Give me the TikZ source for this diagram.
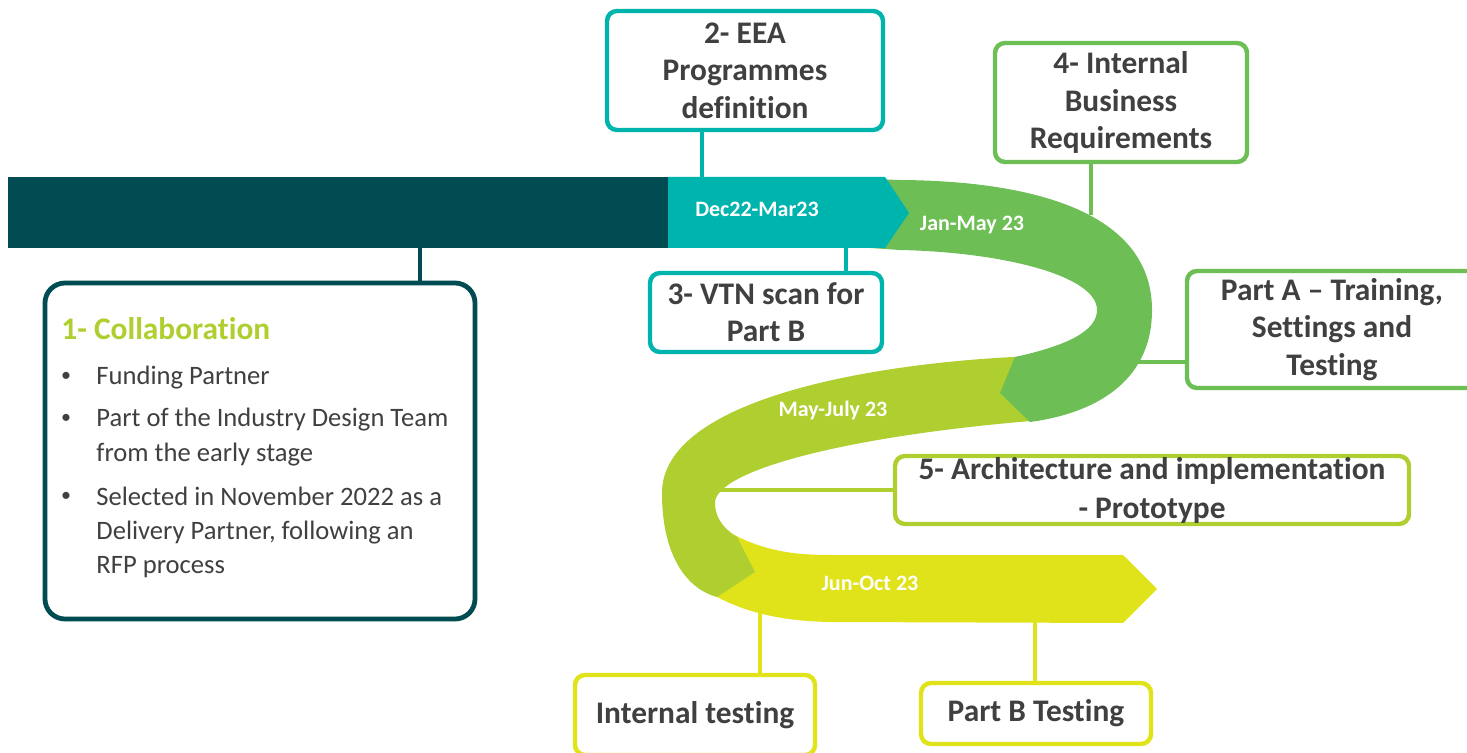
\documentclass[tikz,border=0pt]{standalone}
\usepackage{fontspec}
\setmainfont{Carlito}[Ligatures=NoCommon]
\definecolor{cDark}{HTML}{004C52}
\definecolor{cTeal}{HTML}{00B4AE}
\definecolor{cGreen}{HTML}{6CBE55}
\definecolor{cLime}{HTML}{AFCE2F}
\definecolor{cYellow}{HTML}{E1E31A}
\definecolor{cTxt}{HTML}{404040}
\pgfdeclarelayer{back}
\pgfdeclarelayer{conn}
\pgfdeclarelayer{band}
\pgfsetlayers{back,conn,band,main}
\tikzset{
  box/.style={draw, line width=2.2pt, rounded corners=5pt, fill=white, inner sep=0pt,
    font=\fontsize{15.7}{18.7}\selectfont\bfseries, text=cTxt, align=center},
  conn/.style={line width=2pt},
  datelbl/.style={font=\fontsize{11}{13}\selectfont\bfseries, text=white},
  body/.style={font=\fontsize{13.3}{16}\selectfont, text=cTxt, anchor=base west, inner sep=0pt},
  bul/.style={font=\fontsize{10}{12}\selectfont, text=cTxt, anchor=base, inner sep=0pt}
}
\begin{document}
\begin{tikzpicture}[x=0.5pt,y=-0.5pt]
\clip (0,0) rectangle (1467,753);
\begin{pgfonlayer}{back}
\fill[white] (0,0) rectangle (1467,753);
\end{pgfonlayer}

% boxes
\node[box, draw=cTeal, minimum width=138pt, minimum height=59.5pt] (b2) at (745,70.5) {2- EEA\\Programmes\\definition};
\node[box, draw=cTeal, minimum width=116pt, minimum height=39.5pt] (b3) at (766,312.5) {3- VTN scan for\\Part B};
\node[box, draw=cGreen, minimum width=126pt, minimum height=59.5pt] (b4) at (1121,102.5) {4- Internal\\Business\\Requirements};
\node[box, draw=cGreen, minimum width=145pt, minimum height=58.5pt] (bA) at (1332,329.5) {Part A – Training,\\Settings and\\Testing};
\node[box, draw=cLime, minimum width=257pt, minimum height=34pt, font=\fontsize{15.7}{19.5}\selectfont\bfseries] (b5) at (1152,490) {5- Architecture and implementation\\- Prototype};
\node[box, draw=cYellow, minimum width=120pt, minimum height=40pt] (bI) at (695,715) {Internal testing};
\node[box, draw=cYellow, minimum width=115pt, minimum height=30.5pt] (bB) at (1036,713.5) {Part B Testing};
\node[draw=cDark, line width=2.4pt, rounded corners=10pt, minimum width=215pt, minimum height=168pt, inner sep=0pt, fill=white] (b1) at (260,451) {};

% box 1 content
\node[anchor=base west, inner sep=0pt, font=\fontsize{15.7}{18}\selectfont\bfseries, text=cLime] (t1) at (61,340) {1- Collaboration};
\node[bul] (u1) at (66,382) {•};
\node[body] (l1) at (96,385) {Funding Partner};
\node[bul] (u2) at (66,424) {•};
\node[body] (l2) at (96,427) {Part of the Industry Design Team};
\node[body] (l3) at (96,462) {from the early stage};
\node[bul] (u3) at (66,502) {•};
\node[body] (l4) at (96,505) {Selected in November 2022 as a};
\node[body] (l5) at (96,539) {Delivery Partner, following an};
\node[body] (l6) at (96,573) {RFP process};

% bands
\begin{pgfonlayer}{band}
\fill[cYellow] (725,530) .. controls (760,550) and (790,555) .. (830,555) -- (1123,555) -- (1157,589)
  -- (1123,623) -- (830,622) .. controls (780,621) and (740,612) .. (705,590) -- cycle;
\fill[cLime] (1035,356) .. controls (870,362) and (662,400) .. (662,493)
  .. controls (662,560) and (690,590) .. (717,597) -- (755,572) -- (737,537)
  .. controls (718,525) and (715,512) .. (715,503)
  .. controls (715,470) and (850,436) .. (1031,421) -- cycle;
\fill[cGreen] (870,179) -- (900,180) .. controls (1040,181) and (1152,215) .. (1152,310)
  .. controls (1152,385) and (1090,414) .. (1030,422) -- (1000,393) -- (1015,357)
  .. controls (1070,345) and (1097,330) .. (1097,310)
  .. controls (1097,275) and (1000,252) .. (900,250) -- (870,248) -- cycle;
\fill[cTeal] (668,177) -- (885,177) -- (909,213) -- (885,248) -- (668,248) -- cycle;
\fill[cDark] (8,177) rectangle (668,248);
\end{pgfonlayer}

% date labels
\node[datelbl] (d1) at (757,209) {Dec22-Mar23};
\node[datelbl] (d2) at (972,225) {Jan-May 23};
\node[datelbl] (d3) at (833,411) {May-July 23};
\node[datelbl] (d4) at (870,583) {Jun-Oct 23};

% connectors
\begin{pgfonlayer}{conn}
\coordinate (k1) at (420,240);
\draw[conn, cDark] (k1) -- (k1 |- b1.north);
\coordinate (k2) at (702,190);
\draw[conn, cTeal] (k2 |- b2.south) -- (k2);
\coordinate (k3) at (846,240);
\draw[conn, cTeal] (k3) -- (k3 |- b3.north);
\coordinate (k4) at (1091,215);
\draw[conn, cGreen] (k4 |- b4.south) -- (k4);
\coordinate (kA) at (1130,362);
\draw[conn, cGreen] (kA) -- (kA -| bA.west);
\coordinate (k5) at (712,490);
\draw[conn, cLime] (k5) -- (k5 -| b5.west);
\coordinate (kI) at (760,600);
\draw[conn, cYellow] (kI) -- (kI |- bI.north);
\coordinate (kB) at (1035,610);
\draw[conn, cYellow] (kB) -- (kB |- bB.north);
\end{pgfonlayer}
\end{tikzpicture}
\end{document}
